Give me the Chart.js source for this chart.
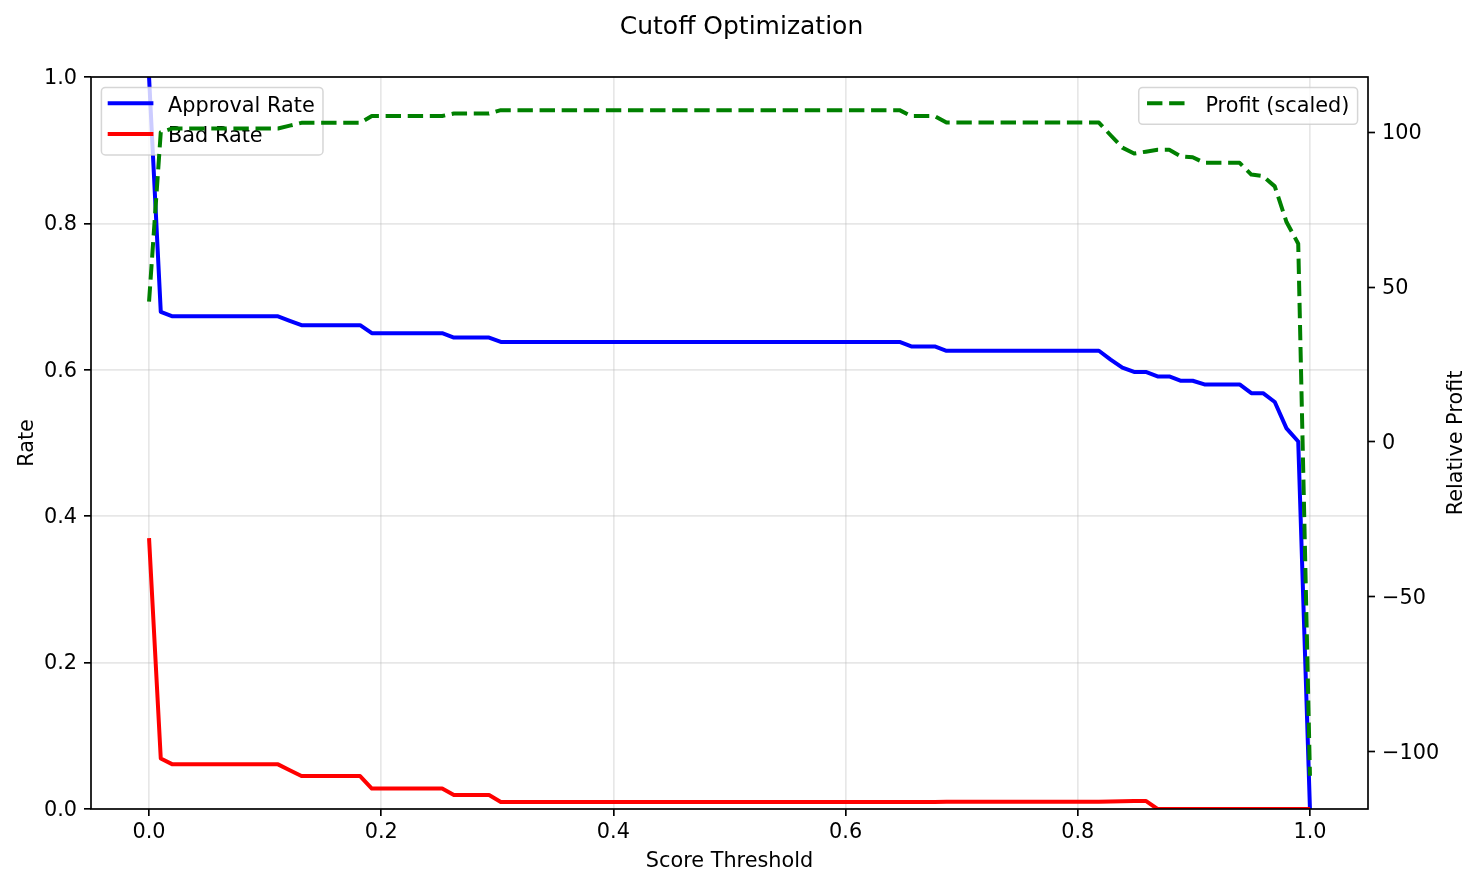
<!DOCTYPE html>
<html>
<head>
<meta charset="utf-8">
<title>Cutoff Optimization</title>
<script src="https://cdn.jsdelivr.net/npm/chart.js@4.4.1/dist/chart.umd.min.js"></script>
<style>
  html, body { margin: 0; padding: 0; background: #fff; }
  canvas { display: block; }
</style>
</head>
<body>
<canvas id="chart" width="1483" height="887"></canvas>
<script>
// score thresholds (100 steps from 0 to 1)
const thresholds = [
  0.0000, 0.0101, 0.0202, 0.0303, 0.0404, 0.0505, 0.0606, 0.0707, 0.0808, 0.0909,
  0.1010, 0.1111, 0.1212, 0.1313, 0.1414, 0.1515, 0.1616, 0.1717, 0.1818, 0.1919,
  0.2020, 0.2121, 0.2222, 0.2323, 0.2424, 0.2525, 0.2626, 0.2727, 0.2828, 0.2929,
  0.3030, 0.3131, 0.3232, 0.3333, 0.3434, 0.3535, 0.3636, 0.3737, 0.3838, 0.3939,
  0.4040, 0.4141, 0.4242, 0.4343, 0.4444, 0.4545, 0.4646, 0.4747, 0.4848, 0.4949,
  0.5051, 0.5152, 0.5253, 0.5354, 0.5455, 0.5556, 0.5657, 0.5758, 0.5859, 0.5960,
  0.6061, 0.6162, 0.6263, 0.6364, 0.6465, 0.6566, 0.6667, 0.6768, 0.6869, 0.6970,
  0.7071, 0.7172, 0.7273, 0.7374, 0.7475, 0.7576, 0.7677, 0.7778, 0.7879, 0.7980,
  0.8081, 0.8182, 0.8283, 0.8384, 0.8485, 0.8586, 0.8687, 0.8788, 0.8889, 0.8990,
  0.9091, 0.9192, 0.9293, 0.9394, 0.9495, 0.9596, 0.9697, 0.9798, 0.9899, 1.0000
];

const approvalRate = [
  1.000, 0.679, 0.673, 0.673, 0.673, 0.673, 0.673, 0.673, 0.673, 0.673,
  0.673, 0.673, 0.667, 0.661, 0.661, 0.661, 0.661, 0.661, 0.661, 0.650,
  0.650, 0.650, 0.650, 0.650, 0.650, 0.650, 0.644, 0.644, 0.644, 0.644,
  0.638, 0.638, 0.638, 0.638, 0.638, 0.638, 0.638, 0.638, 0.638, 0.638,
  0.638, 0.638, 0.638, 0.638, 0.638, 0.638, 0.638, 0.638, 0.638, 0.638,
  0.638, 0.638, 0.638, 0.638, 0.638, 0.638, 0.638, 0.638, 0.638, 0.638,
  0.638, 0.638, 0.638, 0.638, 0.638, 0.632, 0.632, 0.632, 0.626, 0.626,
  0.626, 0.626, 0.626, 0.626, 0.626, 0.626, 0.626, 0.626, 0.626, 0.626,
  0.626, 0.626, 0.614, 0.603, 0.597, 0.597, 0.591, 0.591, 0.585, 0.585,
  0.580, 0.580, 0.580, 0.580, 0.568, 0.568, 0.556, 0.520, 0.502, 0.000
];

const badRate = [
  0.370, 0.069, 0.061, 0.061, 0.061, 0.061, 0.061, 0.061, 0.061, 0.061,
  0.061, 0.061, 0.053, 0.045, 0.045, 0.045, 0.045, 0.045, 0.045, 0.028,
  0.028, 0.028, 0.028, 0.028, 0.028, 0.028, 0.019, 0.019, 0.019, 0.019,
  0.0096, 0.0096, 0.0096, 0.0096, 0.0096, 0.0096, 0.0096, 0.0096, 0.0096, 0.0096,
  0.0096, 0.0096, 0.0096, 0.0096, 0.0096, 0.0096, 0.0096, 0.0096, 0.0096, 0.0096,
  0.0096, 0.0096, 0.0096, 0.0096, 0.0096, 0.0096, 0.0096, 0.0096, 0.0096, 0.0096,
  0.0096, 0.0096, 0.0096, 0.0096, 0.0096, 0.0097, 0.0097, 0.0097, 0.0098, 0.0098,
  0.0098, 0.0098, 0.0098, 0.0098, 0.0098, 0.0098, 0.0098, 0.0098, 0.0098, 0.0098,
  0.0098, 0.0098, 0.0102, 0.0106, 0.0108, 0.0110, 0.000, 0.000, 0.000, 0.000,
  0.000, 0.000, 0.000, 0.000, 0.000, 0.000, 0.000, 0.000, 0.000, 0.000
];

const profitScaled = [
  45.3, 100.0, 101.2, 101.2, 101.2, 101.2, 101.2, 101.2, 101.2, 101.2,
  101.2, 101.2, 102.1, 103.0, 103.0, 103.0, 103.0, 103.0, 103.0, 105.2,
  105.2, 105.2, 105.2, 105.2, 105.2, 105.2, 106.0, 106.0, 106.0, 106.0,
  107.1, 107.1, 107.1, 107.1, 107.1, 107.1, 107.1, 107.1, 107.1, 107.1,
  107.1, 107.1, 107.1, 107.1, 107.1, 107.1, 107.1, 107.1, 107.1, 107.1,
  107.1, 107.1, 107.1, 107.1, 107.1, 107.1, 107.1, 107.1, 107.1, 107.1,
  107.1, 107.1, 107.1, 107.1, 107.1, 105.2, 105.2, 105.2, 103.1, 103.1,
  103.1, 103.1, 103.1, 103.1, 103.1, 103.1, 103.1, 103.1, 103.1, 103.1,
  103.1, 103.1, 99.0, 95.0, 93.1, 93.7, 94.3, 94.3, 92.2, 91.9,
  90.1, 90.1, 90.1, 90.1, 86.3, 85.8, 82.5, 71.0, 64.0, -107.7
];

const xTicks = [0, 0.2, 0.4, 0.6, 0.8, 1.0];
const rateTicks = [0, 0.2, 0.4, 0.6, 0.8, 1.0];
const profitTicks = [-100, -50, 0, 50, 100];

const FONT = 'DejaVu Sans';
const FS = 20.8;           // 10pt at 150 dpi
const LW = 4;              // data line width
const GRID = 'rgba(176,176,176,0.3)';

function toPoints(values) {
  return thresholds.map((t, i) => ({ x: t, y: values[i] }));
}

// matplotlib-style legend box drawn straight onto the canvas
function drawLegend(ctx, area, items, side) {
  const pad = 8.3, handleLen = 41.7, textPad = 16.7, rowH = 20.3, spacing = 10.4, inset = 10.4;
  ctx.save();
  ctx.font = FS + 'px "' + FONT + '"';
  let textW = 0;
  items.forEach(it => { textW = Math.max(textW, ctx.measureText(it.label).width); });
  const w = pad + handleLen + textPad + textW + pad;
  const h = 2 * pad + items.length * rowH + (items.length - 1) * spacing;
  const x0 = side === 'left' ? area.left + inset : area.right - inset - w;
  const y0 = area.top + inset;

  ctx.beginPath();
  ctx.roundRect(x0, y0, w, h, 4);
  ctx.fillStyle = 'rgba(255,255,255,0.8)';
  ctx.fill();
  ctx.lineWidth = 1.5;
  ctx.strokeStyle = 'rgba(204,204,204,0.8)';
  ctx.stroke();

  items.forEach((it, r) => {
    const base = y0 + pad + r * (rowH + spacing) + 15.9;
    const hy = base - 8.4;
    ctx.beginPath();
    ctx.strokeStyle = it.color;
    ctx.lineWidth = LW;
    if (it.dash) {
      ctx.setLineDash(it.dash);
      ctx.lineCap = 'butt';
    } else {
      ctx.setLineDash([]);
      ctx.lineCap = 'square';
    }
    ctx.moveTo(x0 + pad, hy);
    ctx.lineTo(x0 + pad + handleLen, hy);
    ctx.stroke();
    ctx.setLineDash([]);
    ctx.fillStyle = '#000';
    ctx.textBaseline = 'alphabetic';
    ctx.textAlign = 'left';
    ctx.fillText(it.label, x0 + pad + handleLen + textPad, base);
  });
  ctx.restore();
}

const overlay = {
  id: 'overlay',
  afterDatasetDraw(chart, args) {
    // left legend sits under the twin-axis profit line
    if (args.index === 1) {
      drawLegend(chart.ctx, chart.chartArea, [
        { label: 'Approval Rate', color: 'blue' },
        { label: 'Bad Rate', color: 'red' }
      ], 'left');
    }
  },
  afterDatasetsDraw(chart) {
    const { ctx, chartArea: a } = chart;
    ctx.save();
    ctx.strokeStyle = '#000';
    ctx.lineWidth = 1.67;
    ctx.strokeRect(a.left, a.top, a.right - a.left, a.bottom - a.top);

    // right axis label, reading bottom to top like matplotlib
    ctx.translate(1457, (a.top + a.bottom) / 2);
    ctx.rotate(-Math.PI / 2);
    ctx.font = FS + 'px "' + FONT + '"';
    ctx.fillStyle = '#000';
    ctx.textAlign = 'center';
    ctx.textBaseline = 'middle';
    ctx.fillText('Relative Profit', 0, 0);
    ctx.restore();

    drawLegend(ctx, a, [
      { label: 'Profit (scaled)', color: 'green', dash: [15.4, 6.7] }
    ], 'right');
  }
};

Chart.defaults.font.family = FONT;
Chart.defaults.color = '#000';

const ctx = document.getElementById('chart').getContext('2d');
new Chart(ctx, {
  type: 'line',
  data: {
    datasets: [
      {
        label: 'Approval Rate',
        data: toPoints(approvalRate),
        yAxisID: 'y',
        borderColor: 'blue',
        borderWidth: LW,
        pointRadius: 0,
        borderJoinStyle: 'round',
        order: 2,
        clip: 0
      },
      {
        label: 'Bad Rate',
        data: toPoints(badRate),
        yAxisID: 'y',
        borderColor: 'red',
        borderWidth: LW,
        pointRadius: 0,
        borderJoinStyle: 'round',
        order: 1,
        clip: 0
      },
      {
        label: 'Profit (scaled)',
        data: toPoints(profitScaled),
        yAxisID: 'y2',
        borderColor: 'green',
        borderWidth: LW,
        borderDash: [15.4, 6.7],
        pointRadius: 0,
        borderJoinStyle: 'round',
        order: 0,
        clip: 0
      }
    ]
  },
  options: {
    responsive: false,
    animation: false,
    devicePixelRatio: 1,
    layout: { padding: 0 },
    plugins: {
      legend: { display: false },
      tooltip: { enabled: false },
      title: {
        display: true,
        text: 'Cutoff Optimization',
        color: '#000',
        font: { family: FONT, size: 25, weight: 'normal' },
        padding: { top: 12, bottom: 35 }
      }
    },
    scales: {
      x: {
        type: 'linear',
        min: -0.05,
        max: 1.05,
        afterBuildTicks: s => { s.ticks = xTicks.map(v => ({ value: v })); },
        afterFit: s => { s.height = 78; },
        ticks: { font: { size: FS }, padding: 4, maxRotation: 0, callback: v => v.toFixed(1) },
        grid: { color: GRID, lineWidth: 1.67, tickLength: 7, tickColor: '#000', tickWidth: 1.67 },
        border: { display: false },
        title: { display: true, text: 'Score Threshold', font: { size: FS }, padding: { top: 0, bottom: 12.5 } }
      },
      y: {
        position: 'left',
        min: 0,
        max: 1,
        afterBuildTicks: s => { s.ticks = rateTicks.map(v => ({ value: v })); },
        afterFit: s => { s.width = 91; },
        ticks: { font: { size: FS }, padding: 7, labelOffset: 1.5, callback: v => v.toFixed(1) },
        grid: { color: GRID, lineWidth: 1.67, tickLength: 7, tickColor: '#000', tickWidth: 1.67 },
        border: { display: false },
        title: { display: true, text: 'Rate', font: { size: FS }, padding: { top: 15, bottom: 0 } }
      },
      y2: {
        position: 'right',
        min: -118.45,
        max: 117.8,
        afterBuildTicks: s => { s.ticks = profitTicks.map(v => ({ value: v })); },
        afterFit: s => { s.width = 115; },
        ticks: { font: { size: FS }, padding: 7, labelOffset: 1.5, callback: v => String(v).replace('-', '\u2212') },
        grid: { drawOnChartArea: false, tickLength: 7, tickColor: '#000', tickWidth: 1.67 },
        border: { display: false }
      }
    }
  },
  plugins: [overlay]
});
</script>
</body>
</html>
